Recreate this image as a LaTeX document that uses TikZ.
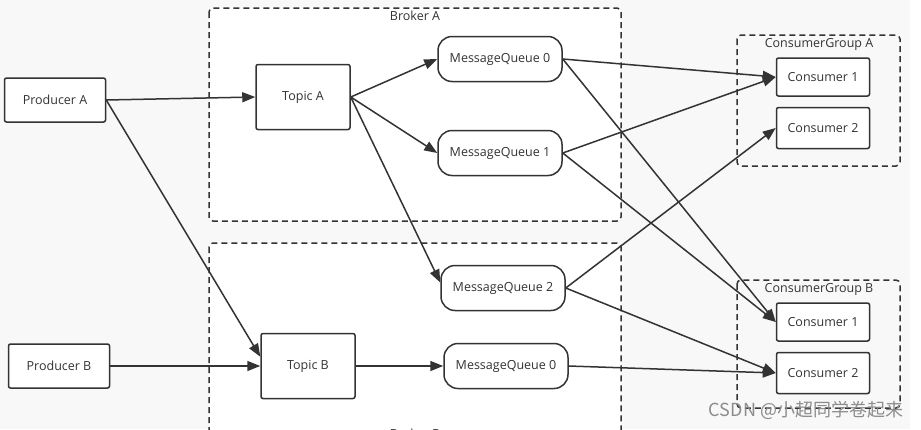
\documentclass[tikz,border=0pt]{standalone}
\usepackage{fontspec}
\setmainfont{Open Sans}
\newfontfamily\cjk{Noto Sans CJK SC}
\usetikzlibrary{arrows.meta}

\definecolor{ink}{HTML}{333333}
\definecolor{paper}{HTML}{F8F8F8}

\tikzset{
  box/.style={draw=ink, line width=1.5pt, fill=white, rounded corners=2pt, inner sep=0pt, text=ink, font=\fontsize{12.5}{15}\selectfont},
  prod/.style={box, minimum width=101pt, minimum height=44pt},
  topic/.style={box, minimum width=94pt, minimum height=65pt},
  queue/.style={box, rounded corners=14pt, minimum width=124pt, minimum height=45pt},
  consumer/.style={box, minimum width=93pt, minimum height=38pt},
  group/.style={draw=ink, line width=1.5pt, dash pattern=on 6pt off 4pt, rounded corners=4pt},
  grouplabel/.style={text=ink, font=\fontsize{12.5}{15}\selectfont, inner sep=0pt},
  link/.style={draw=ink, line width=1.5pt, -{Triangle[length=13pt,width=10pt]}}
}

\begin{document}
\begin{tikzpicture}[x=1pt, y=-1pt]

\clip (0,0) rectangle (921,429);
\fill[paper] (0,0) rectangle (910,429);

% brokers and groups
\draw[group, fill=white] (209,8) rectangle (621,221);
\node[grouplabel] (bka) at (415,16) {Broker A};
\draw[group, fill=white] (209,243) rectangle (621,450);
\node[grouplabel] (bkb) at (415,434) {Broker B};

\draw[group] (737,35) rectangle (900,166);
\node[grouplabel] (cga) at (819,44) {ConsumerGroup A};
\draw[group] (737,280) rectangle (900,408);
\node[grouplabel] (cgb) at (819,289) {ConsumerGroup B};

% producers and topics
\node[prod] (pa) at (55,100) {Producer A};
\node[prod] (pb) at (59,366) {Producer B};
\node[topic] (ta) at (303,97) {Topic A};
\node[topic] (tb) at (308,366) {Topic B};

% queues
\node[queue] (qa0) at (500,59) {MessageQueue 0};
\node[queue] (qa1) at (500,153) {MessageQueue 1};
\node[queue] (qa2) at (503,288) {MessageQueue 2};
\node[queue] (qb0) at (506,366) {MessageQueue 0};

% consumers
\foreach \g/\y in {a/77, b/322}
{
	\node[consumer] (c1\g) at (823,\y) {Consumer 1};
	\node[consumer, minimum height=41pt] (c2\g) at (823,\y+51) {Consumer 2};
}

\foreach \s/\t in {pa.east/ta.west, pa.east/tb.169, pb.east/tb.west,
	ta.east/qa0.west, ta.east/qa1.west, ta.east/qa2.175, tb.east/qb0.west,
	qa0.east/c1a.west, qa0.east/c1b.west, qa1.east/c1a.west, qa1.east/c1b.west,
	qa2.east/c2a.west, qa2.east/c2b.west, qb0.east/c2b.west}
	\draw[link] (\s) -- (\t);

\node[text=black!45, font=\cjk\fontsize{18}{20}\selectfont, inner sep=0pt] (mark) at (806,410) {CSDN @小超同学卷起来};

\end{tikzpicture}
\end{document}
